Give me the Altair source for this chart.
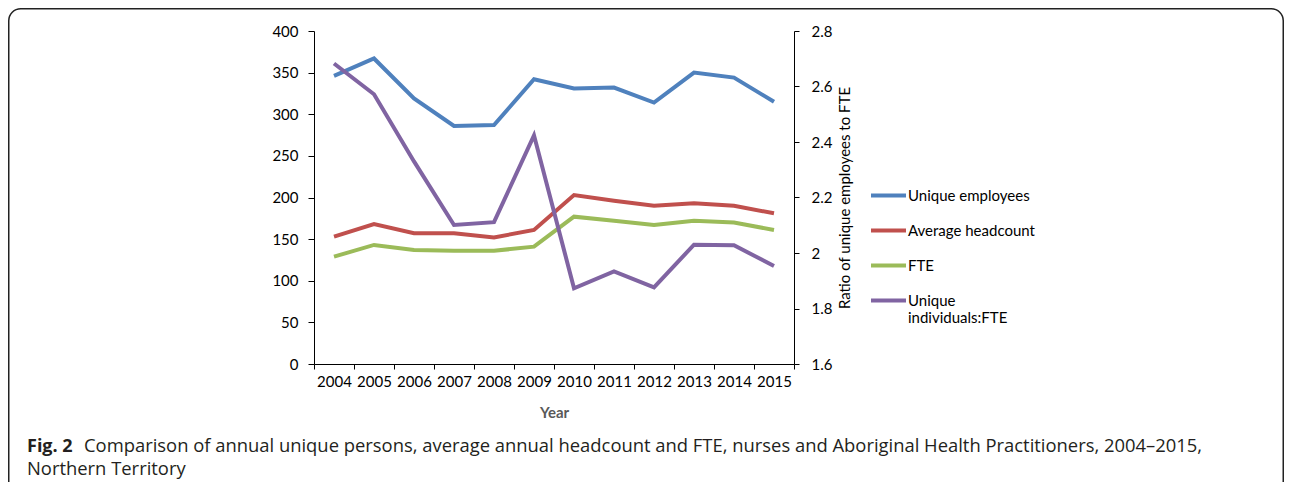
import altair as alt
import pandas as pd

years = [str(y) for y in range(2004, 2016)]
unique_employees = [346, 367, 319, 286, 287, 342, 331, 332, 314, 350, 344, 315]
average_headcount = [153, 168, 157, 157, 152, 161, 203, 196, 190, 193, 190, 181]
fte = [129, 143, 137, 136, 136, 141, 177, 172, 167, 172, 170, 161]
ratio = [2.683, 2.572, 2.33, 2.101, 2.111, 2.424, 1.873, 1.934, 1.876, 2.030, 2.028, 1.953]

series_names = ["Unique employees", "Average headcount", "FTE", "Unique individuals:FTE"]
series_colors = ["#4F81BD", "#C0504D", "#9BBB59", "#8064A2"]

caption_bold = "Fig. 2"
caption_line1 = "Comparison of annual unique persons, average annual headcount and FTE, nurses and Aboriginal Health Practitioners, 2004\u20132015,"
caption_line2 = "Northern Territory"

left_rows = []
for name, vals in zip(series_names[:3], [unique_employees, average_headcount, fte]):
    for y, v in zip(years, vals):
        left_rows.append({"Year": y, "Series": name, "Value": v})
left_df = pd.DataFrame(left_rows)
right_df = pd.DataFrame({"Year": years, "Series": series_names[3], "Value": ratio})

FONT = "Lato"
FS = 15

x_enc = alt.X(
    "Year:N",
    sort=years,
    scale=alt.Scale(paddingInner=0, paddingOuter=0),
    axis=alt.Axis(
        title="Year", labelAngle=0, tickBand="extent", tickSize=5, labelPadding=5,
        titlePadding=16, titleColor="#595959", titleFontWeight="bold", titleFontSize=15,
        labelFontSize=FS, labelColor="#000", domainColor="#000", tickColor="#000",
        labelFont=FONT, titleFont=FONT,
    ),
)

color_enc = alt.Color(
    "Series:N",
    scale=alt.Scale(domain=series_names, range=series_colors),
    legend=alt.Legend(
        title=None, orient="none", legendX=555, legendY=145, symbolType="stroke",
        symbolSize=1225, symbolStrokeWidth=4, labelFontSize=FS, labelFont=FONT,
        labelColor="#000", labelOffset=0, rowPadding=7, padding=0,
        labelExpr="datum.label == 'Unique individuals:FTE' ? ['Unique', 'individuals:FTE'] : datum.label",
    ),
)

left = alt.Chart(left_df).mark_line(strokeWidth=4).encode(
    x=x_enc,
    y=alt.Y(
        "Value:Q",
        scale=alt.Scale(domain=[0, 400], nice=False),
        axis=alt.Axis(
            title=None, values=list(range(0, 401, 50)), grid=False, tickSize=6, labelPadding=10,
            labelFontSize=FS, labelFont=FONT, labelColor="#000", domainColor="#000", tickColor="#000",
        ),
    ),
    color=color_enc,
)

right = alt.Chart(right_df).mark_line(strokeWidth=4).encode(
    x=x_enc,
    y=alt.Y(
        "Value:Q",
        scale=alt.Scale(domain=[1.6, 2.8], nice=False, zero=False),
        axis=alt.Axis(
            title="Ratio of unique employees to FTE", orient="right", titleAngle=270,
            titleBaseline="top", titleAlign="center",
            values=[1.6, 1.8, 2.0, 2.2, 2.4, 2.6, 2.8], format=".1~f", grid=False,
            tickSize=5, labelPadding=12, titlePadding=6, labelFontSize=FS, titleFontSize=FS,
            titleFontWeight="normal", titleColor="#000", labelFont=FONT, titleFont=FONT,
            labelColor="#000", domainColor="#000", tickColor="#000",
        ),
    ),
    color=color_enc,
)

one = alt.Data(values=[{"k": 1}])

border = alt.Chart(one).mark_rect(
    fill=None, stroke="#222", strokeWidth=1.5, cornerRadius=12
).encode(
    x=alt.value(-305.25), x2=alt.value(969.25), y=alt.value(-22.25), y2=alt.value(462)
)

cap_bold = alt.Chart(one).mark_text(
    text=caption_bold, font="Open Sans", fontSize=18, fontWeight="bold", align="left",
    baseline="alphabetic", color="#231F20",
).encode(x=alt.value(-287), y=alt.value(421))

cap1 = alt.Chart(one).mark_text(
    text=caption_line1, font="Open Sans", fontSize=18.4, align="left", baseline="alphabetic",
    color="#231F20",
).encode(x=alt.value(-230), y=alt.value(421))

cap2 = alt.Chart(one).mark_text(
    text=caption_line2, font="Open Sans", fontSize=18.4, align="left", baseline="alphabetic",
    color="#231F20",
).encode(x=alt.value(-287), y=alt.value(444))

lines = alt.layer(left, right).resolve_scale(y="independent")

chart = alt.layer(lines, border, cap_bold, cap1, cap2).properties(
    width=480, height=333,
    autosize=alt.AutoSizeParams(type="none"),
    padding={"left": 306, "top": 23, "right": 490, "bottom": 118},
    background="white",
).configure_view(stroke=None)

chart.save("out.html", embed_options={"renderer": "svg", "actions": False})
